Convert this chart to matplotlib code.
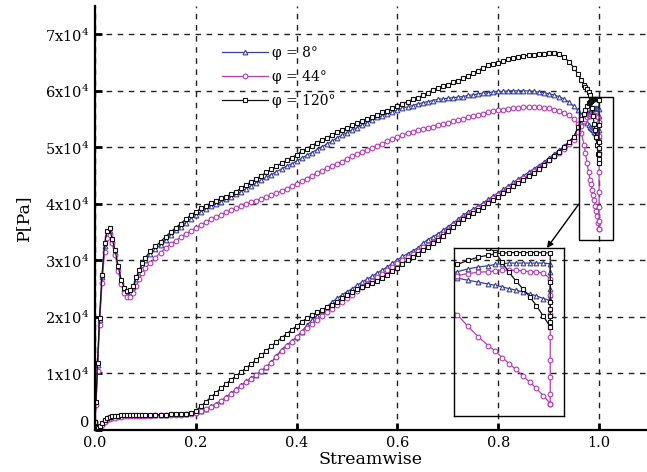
import numpy as np
import matplotlib
matplotlib.use("Agg")
import matplotlib.pyplot as plt
from matplotlib.patches import Rectangle

plt.rcParams["font.family"] = ["DejaVu Serif"]
plt.rcParams["mathtext.fontset"] = "dejavuserif"

# Streamwise stations (clustered at leading and trailing edge)
x_station = [
    0.000, 0.002, 0.005, 0.009, 0.014, 0.019, 0.024, 0.029, 0.034, 0.040,
    0.046, 0.052, 0.058, 0.064, 0.070, 0.076, 0.082, 0.088, 0.094,
    0.10, 0.11, 0.12, 0.13, 0.14, 0.15, 0.16, 0.17, 0.18, 0.19,
    0.20, 0.21, 0.22, 0.23, 0.24, 0.25, 0.26, 0.27, 0.28, 0.29,
    0.30, 0.31, 0.32, 0.33, 0.34, 0.35, 0.36, 0.37, 0.38, 0.39,
    0.40, 0.41, 0.42, 0.43, 0.44, 0.45, 0.46, 0.47, 0.48, 0.49,
    0.50, 0.51, 0.52, 0.53, 0.54, 0.55, 0.56, 0.57, 0.58, 0.59,
    0.60, 0.61, 0.62, 0.63, 0.64, 0.65, 0.66, 0.67, 0.68, 0.69,
    0.70, 0.71, 0.72, 0.73, 0.74, 0.75, 0.76, 0.77, 0.78, 0.79,
    0.80, 0.81, 0.82, 0.83, 0.84, 0.85, 0.86, 0.87, 0.88, 0.89,
    0.90, 0.91, 0.92, 0.93, 0.94, 0.95,
    0.958, 0.965, 0.970, 0.973, 0.976, 0.979, 0.982, 0.984, 0.986, 0.988,
    0.990, 0.992, 0.994, 0.996, 0.998, 1.000,
]

# Pressure in units of 1e4 Pa -- high-pressure side
p_upper_8 = [
    0.15, 0.48, 1.15, 1.95, 2.70, 3.25, 3.47, 3.52, 3.36, 3.15,
    2.88, 2.64, 2.50, 2.44, 2.45, 2.53, 2.67, 2.80, 2.92,
    3.00, 3.12, 3.20, 3.28, 3.37, 3.45, 3.53, 3.60, 3.67, 3.74,
    3.80, 3.86, 3.91, 3.96, 4.00, 4.04, 4.08, 4.12, 4.17, 4.22,
    4.27, 4.32, 4.37, 4.42, 4.47, 4.52, 4.57, 4.62, 4.67, 4.71,
    4.76, 4.81, 4.86, 4.91, 4.96, 5.01, 5.06, 5.11, 5.17, 5.22,
    5.26, 5.31, 5.35, 5.40, 5.44, 5.49, 5.53, 5.56, 5.60, 5.63,
    5.66, 5.69, 5.72, 5.74, 5.77, 5.79, 5.81, 5.83, 5.85, 5.86,
    5.87, 5.88, 5.89, 5.90, 5.92, 5.93, 5.95, 5.96, 5.97, 5.98,
    5.99, 5.99, 6.00, 6.00, 6.00, 6.00, 6.00, 5.99, 5.98, 5.97,
    5.95, 5.93, 5.90, 5.86, 5.80, 5.73,
    5.66, 5.58, 5.50, 5.46, 5.43, 5.40, 5.37, 5.35, 5.33, 5.30,
    5.28, 5.25, 5.22, 5.19, 5.15, 5.12,
]
p_upper_44 = [
    0.15, 0.45, 1.05, 1.85, 2.60, 3.15, 3.40, 3.45, 3.30, 3.10,
    2.82, 2.58, 2.43, 2.36, 2.35, 2.42, 2.55, 2.68, 2.78,
    2.86, 2.96, 3.05, 3.14, 3.22, 3.29, 3.35, 3.41, 3.47, 3.52,
    3.58, 3.63, 3.68, 3.73, 3.77, 3.81, 3.85, 3.89, 3.93, 3.97,
    4.00, 4.03, 4.06, 4.09, 4.12, 4.15, 4.19, 4.23, 4.27, 4.31,
    4.35, 4.40, 4.45, 4.50, 4.54, 4.59, 4.63, 4.67, 4.71, 4.75,
    4.80, 4.84, 4.88, 4.92, 4.95, 4.99, 5.03, 5.06, 5.11, 5.15,
    5.18, 5.22, 5.25, 5.28, 5.30, 5.32, 5.35, 5.37, 5.39, 5.41,
    5.43, 5.46, 5.48, 5.50, 5.53, 5.55, 5.57, 5.60, 5.62, 5.64,
    5.66, 5.67, 5.68, 5.69, 5.70, 5.71, 5.71, 5.71, 5.71, 5.70,
    5.69, 5.67, 5.65, 5.61, 5.57, 5.50,
    5.42, 5.25, 5.05, 4.90, 4.73, 4.57, 4.43, 4.35, 4.25, 4.16,
    4.07, 3.97, 3.88, 3.78, 3.67, 3.55,
]
p_upper_120 = [
    0.15, 0.50, 1.18, 1.98, 2.75, 3.30, 3.52, 3.57, 3.38, 3.18,
    2.90, 2.66, 2.52, 2.46, 2.47, 2.55, 2.70, 2.83, 2.95,
    3.05, 3.17, 3.25, 3.33, 3.42, 3.50, 3.58, 3.65, 3.73, 3.80,
    3.86, 3.92, 3.97, 4.01, 4.06, 4.10, 4.13, 4.17, 4.22, 4.28,
    4.34, 4.39, 4.44, 4.50, 4.56, 4.61, 4.67, 4.72, 4.77, 4.82,
    4.87, 4.93, 4.98, 5.03, 5.08, 5.13, 5.17, 5.22, 5.27, 5.31,
    5.35, 5.39, 5.43, 5.47, 5.50, 5.54, 5.58, 5.62, 5.65, 5.69,
    5.73, 5.77, 5.81, 5.85, 5.88, 5.92, 5.97, 6.01, 6.05, 6.08,
    6.11, 6.15, 6.18, 6.22, 6.27, 6.31, 6.36, 6.41, 6.45, 6.48,
    6.50, 6.53, 6.56, 6.58, 6.60, 6.62, 6.63, 6.64, 6.65, 6.66,
    6.67, 6.67, 6.65, 6.60, 6.52, 6.41,
    6.30, 6.19, 6.11, 6.07, 6.03, 5.98, 5.92, 5.86, 5.70, 5.55,
    5.42, 5.30, 5.18, 5.04, 4.88, 4.72,
]

# Pressure in units of 1e4 Pa -- low-pressure side
p_lower_8 = [
    0.15, 0.06, 0.03, 0.07, 0.13, 0.18, 0.21, 0.23, 0.24, 0.25,
    0.25, 0.26, 0.26, 0.26, 0.26, 0.26, 0.26, 0.26, 0.26,
    0.26, 0.26, 0.27, 0.27, 0.27, 0.28, 0.28, 0.28, 0.29, 0.30,
    0.32, 0.34, 0.37, 0.42, 0.46, 0.52, 0.58, 0.65, 0.72, 0.79,
    0.86, 0.92, 0.98, 1.05, 1.12, 1.20, 1.31, 1.42, 1.50, 1.57,
    1.65, 1.74, 1.85, 1.94, 2.02, 2.10, 2.18, 2.26, 2.33, 2.39,
    2.45, 2.50, 2.56, 2.62, 2.67, 2.72, 2.78, 2.83, 2.89, 2.95,
    3.01, 3.07, 3.12, 3.17, 3.22, 3.30, 3.37, 3.42, 3.47, 3.53,
    3.60, 3.66, 3.73, 3.80, 3.86, 3.91, 3.96, 4.02, 4.08, 4.14,
    4.20, 4.26, 4.32, 4.38, 4.44, 4.50, 4.56, 4.62, 4.68, 4.74,
    4.81, 4.88, 4.95, 5.02, 5.10, 5.19,
    5.33, 5.44, 5.52, 5.56, 5.60, 5.63, 5.65, 5.67, 5.68, 5.69,
    5.69, 5.69, 5.69, 5.69, 5.69, 5.68,
]
p_lower_44 = [
    0.15, 0.05, 0.01, 0.04, 0.09, 0.14, 0.17, 0.19, 0.21, 0.22,
    0.23, 0.23, 0.24, 0.24, 0.24, 0.25, 0.25, 0.25, 0.25,
    0.25, 0.25, 0.26, 0.26, 0.26, 0.27, 0.27, 0.27, 0.28, 0.29,
    0.30, 0.33, 0.37, 0.41, 0.45, 0.51, 0.57, 0.64, 0.71, 0.78,
    0.85, 0.91, 0.97, 1.04, 1.11, 1.19, 1.30, 1.40, 1.48, 1.56,
    1.64, 1.73, 1.81, 1.88, 1.95, 2.02, 2.08, 2.14, 2.21, 2.27,
    2.33, 2.39, 2.46, 2.53, 2.59, 2.64, 2.70, 2.76, 2.83, 2.89,
    2.95, 3.00, 3.06, 3.12, 3.17, 3.23, 3.28, 3.33, 3.39, 3.46,
    3.54, 3.62, 3.68, 3.75, 3.81, 3.87, 3.92, 3.98, 4.04, 4.10,
    4.16, 4.22, 4.28, 4.34, 4.40, 4.46, 4.52, 4.58, 4.64, 4.70,
    4.77, 4.84, 4.91, 4.98, 5.06, 5.14,
    5.27, 5.38, 5.46, 5.50, 5.53, 5.55, 5.56, 5.57, 5.58, 5.58,
    5.58, 5.57, 5.56, 5.55, 5.54, 5.45,
]
p_lower_120 = [
    0.15, 0.06, 0.03, 0.07, 0.13, 0.18, 0.21, 0.23, 0.24, 0.25,
    0.25, 0.26, 0.26, 0.26, 0.26, 0.26, 0.26, 0.26, 0.26,
    0.26, 0.26, 0.27, 0.27, 0.27, 0.28, 0.28, 0.28, 0.29, 0.30,
    0.34, 0.42, 0.50, 0.58, 0.66, 0.74, 0.82, 0.89, 0.96, 1.03,
    1.10, 1.17, 1.24, 1.32, 1.40, 1.48, 1.56, 1.63, 1.70, 1.77,
    1.84, 1.91, 1.98, 2.03, 2.08, 2.12, 2.17, 2.22, 2.27, 2.33,
    2.39, 2.44, 2.49, 2.53, 2.57, 2.60, 2.64, 2.69, 2.75, 2.81,
    2.87, 2.94, 3.00, 3.06, 3.12, 3.18, 3.24, 3.30, 3.37, 3.44,
    3.52, 3.59, 3.66, 3.73, 3.79, 3.84, 3.89, 3.95, 4.01, 4.07,
    4.13, 4.19, 4.25, 4.31, 4.37, 4.43, 4.49, 4.55, 4.61, 4.69,
    4.77, 4.85, 4.92, 5.00, 5.09, 5.19,
    5.36, 5.50, 5.60, 5.67, 5.73, 5.78, 5.81, 5.83, 5.84, 5.85,
    5.85, 5.85, 5.85, 5.85, 5.85, 5.84,
]

# Blunt trailing-edge base, points at x = 1.0 (units of 1e4 Pa)
p_base_8 = [5.55, 5.42, 5.30, 5.20, 5.12]
p_base_44 = [5.21, 4.91, 4.56, 4.21, 3.95, 3.70, 3.55]
p_base_120 = [5.40, 5.09, 4.99, 4.89, 4.79, 4.72]

labels = ["φ = 8°", "φ = 44°", "φ = 120°"]
colors = ["#3a3f9a", "#b23cb2", "#111111"]
markers = ["^", "o", "s"]

x_ticks = [0.0, 0.2, 0.4, 0.6, 0.8, 1.0]
y_ticks = [0, 1, 2, 3, 4, 5, 6, 7]
y_tick_labels = ["0"] + [f"{v}x10$^4$" for v in y_ticks[1:]]

# Trailing-edge window shown in the magnified view
zoom_box_x = (0.960, 1.028)
zoom_box_y = (3.36e4, 5.89e4)
inset_xlim = (0.972, 1.004)
inset_ylim = (3.36e4, 5.92e4)

SCALE = 1e4
series = [
    (p_upper_8, p_lower_8, p_base_8),
    (p_upper_44, p_lower_44, p_base_44),
    (p_upper_120, p_lower_120, p_base_120),
]

fig = plt.figure(figsize=(6.47, 4.72), dpi=100)
ax = fig.add_axes([0.1468, 0.089, 0.8532, 0.898])

x = np.array(x_station)


def draw_series(axis, ms, with_label):
    for (pu, pl, pb), lab, col, mk in zip(series, labels, colors, markers):
        style = dict(color=col, marker=mk, markersize=ms, markerfacecolor="white",
                     markeredgecolor=col, markeredgewidth=0.8, linewidth=0.9)
        axis.plot(x, np.array(pu) * SCALE, label=lab if with_label else None, **style)
        xl = np.concatenate([x, np.full(len(pb), 1.0)])
        pl_full = np.concatenate([pl, pb]) * SCALE
        axis.plot(xl, pl_full, **style)


draw_series(ax, 3.4, True)

ax.set_xlim(0, 1.095)
ax.set_ylim(0, 7.5e4)
ax.set_xticks(x_ticks)
ax.set_xticklabels([f"{v:.1f}" for v in x_ticks])
ax.set_yticks([v * SCALE for v in y_ticks])
ax.set_yticklabels(y_tick_labels)
ax.tick_params(direction="in", length=5, width=2, labelsize=10.5, pad=4)
# the zero label sits just above the corner
ax.get_yticklabels()[0].set_verticalalignment("bottom")
ax.grid(True, linestyle=(0, (4, 4)), color="#222222", linewidth=1.0)
ax.set_axisbelow(True)
for side in ("top", "right"):
    ax.spines[side].set_visible(False)
for side in ("left", "bottom"):
    ax.spines[side].set_linewidth(1.6)

ax.set_xlabel("Streamwise", fontsize=12.5, labelpad=1)
ax.set_ylabel("P[Pa]", fontsize=12.5, labelpad=9)

leg = ax.legend(loc="upper left", bbox_to_anchor=(0.207, 0.935), frameon=False,
                fontsize=10, handlelength=3.3, handletextpad=0.3, labelspacing=0.72)

# Frame marking the magnified trailing-edge region
ax.add_patch(Rectangle((zoom_box_x[0], zoom_box_y[0]),
                       zoom_box_x[1] - zoom_box_x[0], zoom_box_y[1] - zoom_box_y[0],
                       fill=False, edgecolor="black", linewidth=1.0, zorder=5))

# Magnified view of the trailing edge
axin = fig.add_axes([0.7017, 0.1186, 0.170, 0.356])
axin.set_facecolor("none")
draw_series(axin, 3.4, False)
axin.set_xlim(*inset_xlim)
axin.set_ylim(*inset_ylim)
axin.set_xticks([])
axin.set_yticks([])
for s in axin.spines.values():
    s.set_linewidth(1.0)

ax.annotate("", xy=(0.845, 1.0), xycoords=axin.transAxes,
            xytext=(zoom_box_x[0], 4.0e4), textcoords="data",
            arrowprops=dict(arrowstyle="-|>", color="black", lw=1.0,
                            mutation_scale=9, shrinkA=0, shrinkB=0),
            zorder=6)

fig.savefig("out.png", dpi=100)
